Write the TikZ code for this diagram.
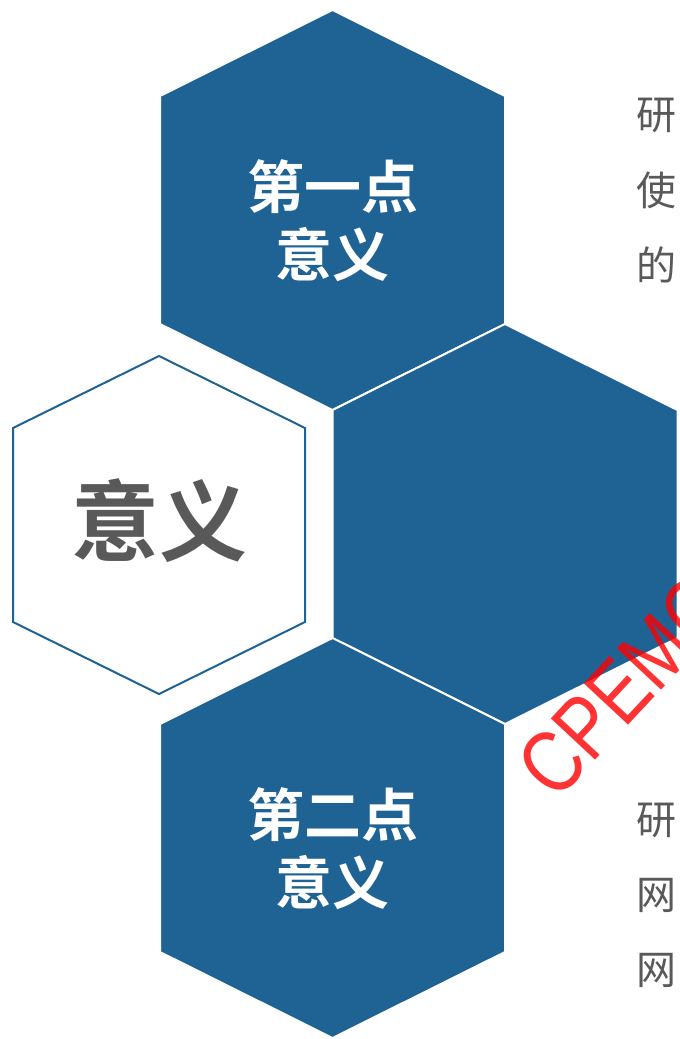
\documentclass[tikz,border=0pt]{standalone}
\usepackage{fontspec}
\setmainfont{Liberation Sans}
\newfontfamily\wmfont[FakeStretch=0.82]{Liberation Sans}
\newfontfamily\cjk{Noto Sans CJK SC}
\newfontfamily\cjkbold{Noto Sans CJK SC Bold}
\definecolor{hexblue}{HTML}{1F6395}
\definecolor{txtgray}{HTML}{595959}
% hexagon path: centre (#1,#2), half width #3, half vertical side #4, half height #5
\newcommand\hexshape[5]{(#1,#2-#5) -- (#1+#3,#2-#4) -- (#1+#3,#2+#4) -- (#1,#2+#5) -- (#1-#3,#2+#4) -- (#1-#3,#2-#4) -- cycle}
\begin{document}
\begin{tikzpicture}[x=1pt,y=-1pt,
  hexfill/.style={fill=hexblue, draw=white, line width=2pt, line join=miter},
  hexline/.style={fill=white, draw=hexblue, line width=2pt, line join=miter},
  hextitle/.style={font=\cjkbold\fontsize{57}{68}\selectfont, text=white, align=center, inner sep=0pt},
  bigtitle/.style={font=\cjkbold\fontsize{88}{100}\selectfont, text=txtgray, inner sep=0pt},
  sidetext/.style={font=\cjk\fontsize{40}{48}\selectfont, text=txtgray, anchor=west, inner sep=0pt},
  wmark/.style={font=\wmfont\fontsize{88}{100}\selectfont, text=red, opacity=0.8, inner sep=0pt}]
\useasboundingbox (0,0) rectangle (680,1039);
\clip (0,0) rectangle (680,1039);
\fill[white] (0,0) rectangle (680,1039);
% hexagons
\path[hexfill] \hexshape{332.5}{210}{172.5}{114}{200};
\path[hexfill] \hexshape{505}{524}{172.5}{114}{200};
\path[hexfill] \hexshape{332.5}{838}{172.5}{114}{200};
\path[hexline] \hexshape{159}{525}{146}{97}{169};
% texts in hexagons
\node[hextitle] (t1) at (332.5,221) {第一点\\意义};
\node[hextitle] (t3) at (332.5,849) {第二点\\意义};
\node[bigtitle] (t0) at (159,521) {意义};
% side texts
\node[sidetext] (s1) at (636,115) {研};
\node[sidetext] (s2) at (636,190) {使};
\node[sidetext] (s3) at (636,265) {的};
\node[sidetext] (s4) at (636,820) {研};
\node[sidetext] (s5) at (636,895) {网};
\node[sidetext] (s6) at (636,970) {网};
% watermark
\node[wmark, rotate=47, anchor=base west] (wm) at (556,803) {CPEMC};
\end{tikzpicture}
\end{document}
